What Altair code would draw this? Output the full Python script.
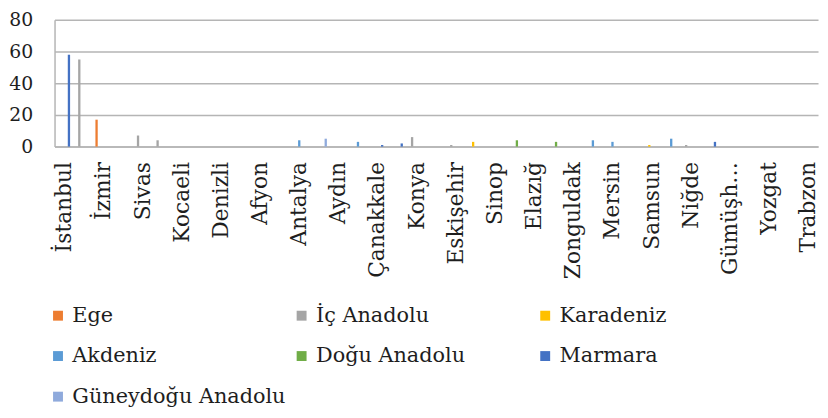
import altair as alt
import pandas as pd

region_order = ["Ege", "İç Anadolu", "Karadeniz", "Akdeniz", "Doğu Anadolu", "Marmara", "Güneydoğu Anadolu"]
region_colors = ["#ED7D31", "#A5A5A5", "#FFC000", "#5B9BD5", "#70AD47", "#4472C4", "#8FAADC"]

cities = ["İstanbul", "Ankara", "İzmir", "Bursa", "Sivas", "Kayseri", "Kocaeli", "Tekirdağ",
          "Denizli", "Manisa", "Afyon", "Muğla", "Antalya", "Gaziantep", "Aydın", "Adana",
          "Çanakkale", "Edirne", "Konya", "Kırıkkale", "Eskişehir", "Ordu", "Sinop", "Erzurum",
          "Elazığ", "Malatya", "Zonguldak", "Isparta", "Mersin", "Kütahya", "Samsun", "Hatay",
          "Niğde", "Sakarya", "Gümüşhane", "Van", "Yozgat", "Rize", "Trabzon"]
regions = ["Marmara", "İç Anadolu", "Ege", "Marmara", "İç Anadolu", "İç Anadolu", "Marmara", "Marmara",
           "Ege", "Ege", "Ege", "Ege", "Akdeniz", "Güneydoğu Anadolu", "Ege", "Akdeniz",
           "Marmara", "Marmara", "İç Anadolu", "İç Anadolu", "İç Anadolu", "Karadeniz", "Karadeniz", "Doğu Anadolu",
           "Doğu Anadolu", "Doğu Anadolu", "Karadeniz", "Akdeniz", "Akdeniz", "Ege", "Karadeniz", "Akdeniz",
           "İç Anadolu", "Marmara", "Karadeniz", "Doğu Anadolu", "İç Anadolu", "Karadeniz", "Karadeniz"]
values = [58, 55, 17, 0, 7, 4, 0, 0,
          0, 0, 0, 0, 4, 5, 0, 3,
          1, 2, 6, 0, 1, 3, 0, 4,
          0, 3, 0, 4, 3, 0, 1, 5,
          1, 3, 0, 0, 0, 0, 0]
y_ticks = [0, 20, 40, 60, 80]
shown_cities = cities[::2]

df = pd.DataFrame({"city": cities, "region": regions, "value": values})

FONT = "DejaVu Serif"
GRID = "#B5B5B5"
TEXT = "#1E1E1E"

chart = alt.Chart(df).mark_bar().encode(
    x=alt.X("city:N", sort=cities,
            scale=alt.Scale(paddingInner=0.176, paddingOuter=0.088),
            axis=alt.Axis(values=shown_cities, labelAngle=-90, title=None, ticks=False,
                          labelPadding=15, labelFontSize=22, domainColor=GRID, domainWidth=1.5,
                          labelExpr="datum.label == 'Gümüşhane' ? 'Gümüşh…' : datum.label")),
    xOffset=alt.XOffset("region:N", sort=region_order,
                        scale=alt.Scale(domain=region_order, paddingInner=0, paddingOuter=0)),
    y=alt.Y("value:Q", scale=alt.Scale(domain=[0, 80]),
            axis=alt.Axis(values=y_ticks, title=None, ticks=False, labelPadding=22,
                          labelFontSize=19, grid=True, gridColor=GRID, gridWidth=1.5,
                          domainColor=GRID, domainWidth=1.5)),
    color=alt.Color("region:N", sort=region_order,
                    scale=alt.Scale(domain=region_order, range=region_colors),
                    legend=alt.Legend(title=None, orient="none", direction="horizontal",
                                      legendX=-12, legendY=288,
                                      columns=3, gridAlign="all", columnPadding=0,
                                      rowPadding=19, symbolType="square", symbolSize=100,
                                      symbolOffset=5, symbolStrokeWidth=0, labelOffset=4, padding=0,
                                      labelFont=FONT, labelFontSize=21, labelColor=TEXT,
                                      labelLimit=400)),
).properties(
    width=771, height=128,
    autosize=alt.AutoSizeParams(type="none"),
    padding={"left": 47, "top": 10, "right": 2, "bottom": 264},
).configure_axis(
    labelFont=FONT, labelColor=TEXT,
).configure_view(stroke=None)

chart.save("out.html", embed_options={"renderer": "svg", "actions": False})
